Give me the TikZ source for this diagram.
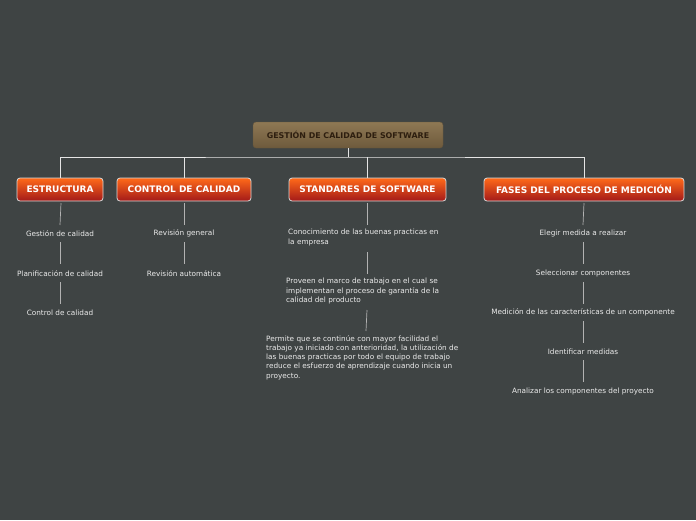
\documentclass[tikz,border=0pt]{standalone}
\usepackage{fontspec}
\setmainfont{DejaVu Sans}
\begin{document}
\begin{tikzpicture}[x=1pt,y=-1pt,
  topic/.style={draw=white!85!black,line width=0.8pt,rounded corners=3pt,top color=orange!70!red!90!white,bottom color=red!60!black!90,text=white,font=\bfseries\fontsize{9}{9}\selectfont,inner sep=0pt,minimum height=23pt},
  leaf/.style={text=white!92!black,font=\fontsize{7.3}{9.3}\selectfont,inner sep=0pt},
  para/.style={leaf,anchor=north west,align=left},
  con/.style={draw=white!70!black,line width=0.7pt},
  main/.style={draw=white!90!black,line width=1pt}]
\fill[fill={rgb,255:red,63;green,68;blue,68}] (0,0) rectangle (696,520);
\useasboundingbox (0,0) rectangle (696,520);
\node[rounded corners=3pt,top color={rgb,255:red,142;green,120;blue,84},bottom color={rgb,255:red,110;green,90;blue,60},draw={rgb,255:red,100;green,85;blue,60},text={rgb,255:red,45;green,30;blue,15},font=\bfseries\fontsize{7.9}{8}\selectfont,minimum width=190pt,minimum height=26pt,inner sep=0pt] (root) at (348,135) {GESTIÓN DE CALIDAD DE SOFTWARE};
\node[topic,minimum width=86pt] (e) at (60,189.5) {ESTRUCTURA};
\node[topic,minimum width=134pt] (c) at (184,189.5) {CONTROL DE CALIDAD};
\node[topic,minimum width=157pt] (s) at (367.5,189.5) {STANDARES DE SOFTWARE};
\node[topic,minimum width=200pt] (f) at (584,189.5) {FASES DEL PROCESO DE MEDICIÓN};
\coordinate (j) at (348,157);
\draw[main] (root.south) -- (j);
\draw[main] (e.north) |- (j) -| (f.north);
\draw[main] (c.north) -- (c.north |- j);
\draw[main] (s.north) -- (s.north |- j);
% estructura
\node[leaf] (e1) at (60,233.5) {Gestión de calidad};
\node[leaf] (e2) at (60,273.5) {Planificación de calidad};
\node[leaf] (e3) at (60,312.5) {Control de calidad};
\draw[con] (61,203) -- (60,225);
\draw[con] (60,242) -- (60,264);
\draw[con] (60,282) -- (60,304);
% control
\node[leaf] (c1) at (184,233.5) {Revisión general};
\node[leaf] (c2) at (184,273.5) {Revisión automática};
\draw[con] (184,203) -- (184,225);
\draw[con] (184,242) -- (184,264);
% standares
\node[para] (s1) at (288,229) {Conocimiento de las buenas practicas en\\la empresa};
\node[para] (s2) at (286,278) {Proveen el marco de trabajo en el cual se\\implementan el proceso de garantía de la\\calidad del producto};
\node[para] (s3) at (266,335) {Permite que se continúe con mayor facilidad el\\trabajo ya iniciado con anterioridad, la utilización de\\las buenas practicas por todo el equipo de trabajo\\reduce el esfuerzo de aprendizaje cuando inicia un\\proyecto.};
\draw[con] (367,203) -- (367,225);
\draw[con] (367,252) -- (367,274);
\draw[con] (367,310) -- (366,331);
% fases
\node[leaf] (f1) at (583,233.5) {Elegir medida a realizar};
\node[leaf] (f2) at (583,273.5) {Seleccionar componentes};
\node[leaf] (f3) at (583,312.5) {Medición de las características de un componente};
\node[leaf] (f4) at (583,351.5) {Identificar medidas};
\node[leaf] (f5) at (583,391.5) {Analizar los componentes del proyecto};
\draw[con] (584,203) -- (583,225);
\draw[con] (583,242) -- (583,264);
\draw[con] (583,282) -- (583,304);
\draw[con] (583,321) -- (583,343);
\draw[con] (583,360) -- (583,382);
\end{tikzpicture}
\end{document}
